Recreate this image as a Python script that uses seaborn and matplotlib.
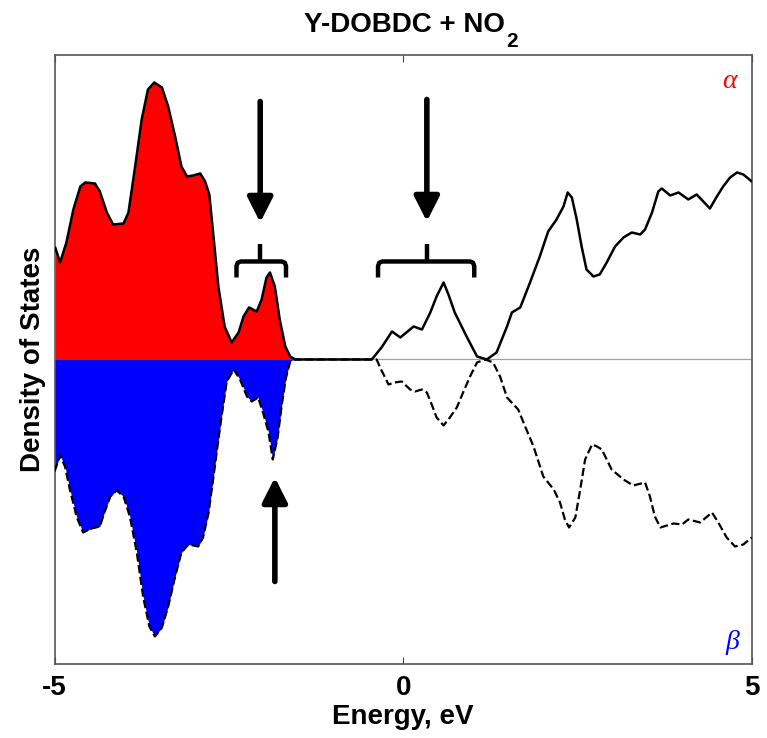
import numpy as np
import pandas as pd
import matplotlib
matplotlib.use("Agg")
import matplotlib.pyplot as plt
import seaborn as sns

# Spin-resolved density of states (arbitrary units) vs energy (eV)
alpha_energy = [-4.99, -4.92, -4.83, -4.73, -4.63, -4.56, -4.42, -4.35, -4.25, -4.16,
                -4.01, -3.94, -3.85, -3.75, -3.66, -3.57, -3.46, -3.37, -3.27, -3.18,
                -3.10, -3.01, -2.91, -2.84, -2.78, -2.72, -2.65, -2.56, -2.46, -2.36,
                -2.29, -2.21, -2.10, -2.03, -1.96, -1.91, -1.84, -1.77, -1.69, -1.62,
                -1.55, -0.45, -0.31, -0.16, -0.04, 0.15, 0.27, 0.39, 0.48, 0.58,
                0.65, 0.74, 0.91, 1.06, 1.20, 1.34, 1.49, 1.56, 1.68, 1.82,
                1.96, 2.08, 2.20, 2.30, 2.36, 2.42, 2.49, 2.56, 2.63, 2.73,
                2.82, 2.92, 3.04, 3.16, 3.28, 3.40, 3.47, 3.57, 3.66, 3.71,
                3.83, 3.95, 4.09, 4.21, 4.40, 4.50, 4.59, 4.69, 4.79, 4.88,
                5.00]
alpha_dos = [11.2, 9.7, 11.7, 15.0, 17.3, 17.7, 17.6, 16.8, 14.7, 13.5,
             13.6, 14.7, 19.0, 24.0, 27.0, 27.7, 27.2, 25.3, 22.3, 19.3,
             18.3, 18.4, 18.6, 17.8, 16.5, 12.3, 7.3, 3.3, 1.7, 2.7,
             4.3, 5.2, 4.8, 6.0, 8.2, 8.7, 7.3, 4.0, 1.3, 0.3,
             0.0, 0.0, 1.2, 2.8, 2.2, 3.3, 3.0, 4.7, 6.3, 7.7,
             6.5, 4.7, 2.3, 0.3, 0.0, 0.7, 3.3, 4.7, 5.2, 7.7,
             10.3, 12.8, 14.0, 15.3, 16.7, 16.2, 14.0, 11.3, 9.0, 8.3,
             8.5, 9.7, 11.3, 12.2, 12.7, 12.5, 13.0, 14.7, 16.8, 17.1,
             16.4, 16.7, 16.0, 16.5, 15.1, 16.3, 17.3, 18.2, 18.7, 18.5,
             17.8]

beta_energy = [-5.00, -4.92, -4.85, -4.78, -4.68, -4.59, -4.47, -4.35, -4.28, -4.20,
               -4.11, -4.01, -3.92, -3.82, -3.73, -3.64, -3.56, -3.46, -3.37, -3.27,
               -3.18, -3.08, -2.94, -2.87, -2.79, -2.72, -2.65, -2.60, -2.53, -2.43,
               -2.34, -2.24, -2.17, -2.08, -2.01, -1.93, -1.87, -1.80, -1.74, -1.68,
               -1.62, -1.58, -0.38, -0.33, -0.21, -0.12, -0.02, 0.10, 0.17, 0.27,
               0.34, 0.41, 0.48, 0.58, 0.67, 0.77, 0.86, 0.96, 1.06, 1.18,
               1.29, 1.39, 1.49, 1.65, 1.75, 1.87, 2.01, 2.16, 2.25, 2.32,
               2.38, 2.47, 2.54, 2.61, 2.71, 2.78, 2.85, 2.99, 3.16, 3.30,
               3.47, 3.54, 3.61, 3.69, 3.88, 4.00, 4.09, 4.26, 4.43, 4.52,
               4.64, 4.76, 4.88, 5.00]
beta_dos = [11.2, 9.6, 10.7, 13.0, 15.8, 17.3, 16.9, 16.7, 15.2, 13.7,
            13.1, 13.7, 15.7, 19.3, 23.7, 26.7, 27.7, 26.8, 24.7, 21.7,
            19.3, 18.5, 18.7, 17.8, 15.3, 11.7, 8.0, 5.5, 2.2, 1.0,
            2.0, 3.7, 4.2, 3.8, 5.3, 7.3, 10.0, 7.8, 4.5, 1.8,
            0.2, 0.0, 0.0, 0.8, 2.5, 2.3, 2.2, 3.0, 3.2, 3.0,
            3.3, 4.5, 5.8, 6.6, 5.8, 4.8, 3.3, 1.7, 0.3, 0.0,
            0.3, 1.7, 3.8, 5.0, 6.7, 8.7, 11.7, 13.0, 14.3, 16.0,
            16.8, 15.8, 13.0, 10.0, 8.5, 8.7, 9.0, 11.0, 12.0, 12.6,
            12.3, 13.7, 15.7, 16.8, 16.4, 16.5, 16.0, 16.3, 15.3, 16.3,
            17.8, 18.7, 18.5, 17.8]

# Top of the occupied states
occupied_edge = -1.55

x_ticks = [-5, 0, 5]
x_tick_labels = ["-5", "0", "5"]

sns.set_style("white")
plt.rcParams["font.family"] = ["Liberation Sans", "DejaVu Sans"]
plt.rcParams["text.color"] = "black"
plt.rcParams["axes.labelcolor"] = "black"
plt.rcParams["xtick.color"] = "black"

alpha = pd.DataFrame({"energy": alpha_energy, "dos": alpha_dos})
beta = pd.DataFrame({"energy": beta_energy, "dos": np.negative(beta_dos)})

fig = plt.figure(figsize=(7.67, 7.38), dpi=100)
ax = fig.add_axes([0.0711, 0.1003, 0.9090, 0.8252])

ax.axhline(0, color="#a0a0a0", lw=0.9, zorder=1)

# occupied states shaded
occ_a = alpha[alpha["energy"] <= occupied_edge + 1e-9]
occ_b = beta[beta["energy"] <= occupied_edge + 1e-9]
ax.fill_between(occ_a["energy"], occ_a["dos"], 0, color="#ff0000", lw=0, zorder=2)
ax.fill_between(occ_b["energy"], occ_b["dos"], 0, color="#0000ff", lw=0, zorder=2)

sns.lineplot(data=beta, x="energy", y="dos", ax=ax, color="black", lw=1.6,
             linestyle="--", sort=False, estimator=None, zorder=3)
sns.lineplot(data=alpha, x="energy", y="dos", ax=ax, color="black", lw=1.8,
             sort=False, estimator=None, zorder=4)

ax.set_xlim(-5, 5)
ax.set_ylim(-30.45, 30.45)

# arrows marking the states of interest
arrow_kw = dict(arrowstyle="-|>,head_length=0.75,head_width=0.38", lw=4,
                color="black", shrinkA=0, shrinkB=0, mutation_scale=20)
ax.annotate("", xy=(-2.05, 13.7), xytext=(-2.05, 25.8), arrowprops=arrow_kw)
ax.annotate("", xy=(0.34, 13.8), xytext=(0.34, 26.0), arrowprops=arrow_kw)
ax.annotate("", xy=(-1.84, -11.8), xytext=(-1.84, -22.2), arrowprops=arrow_kw)


def brace(x0, x1, xc, y_end=8.2, y_bar=9.8, y_tip=11.5):
    r = 0.06
    xs = [x0, x0, x0 + r * 0.3, x0 + r, x1 - r, x1 - r * 0.3, x1, x1]
    ys = [y_end, y_bar - 0.45, y_bar - 0.12, y_bar, y_bar, y_bar - 0.12, y_bar - 0.45, y_end]
    ax.plot(xs, ys, color="black", lw=3.2, solid_capstyle="butt",
            solid_joinstyle="round", zorder=5)
    ax.plot([xc, xc], [y_bar, y_tip], color="black", lw=3.2,
            solid_capstyle="butt", zorder=5)


brace(-2.39, -1.68, -2.05)
brace(-0.36, 1.02, 0.34)

ax.text(0.9675, 0.957, "α", transform=ax.transAxes, color="red", fontsize=20,
        family="Liberation Serif", style="italic", ha="center", va="center")
ax.text(0.972, 0.036, "β", transform=ax.transAxes, color="blue", fontsize=20,
        family="Liberation Serif", style="italic", ha="center", va="center")

ax.set_xticks(x_ticks)
ax.set_xticklabels(x_tick_labels, fontsize=20, fontweight="bold")
ax.set_yticks([])
ax.tick_params(axis="x", direction="in", length=5, width=0.8, top=True,
               bottom=True, pad=8, color="#444444")

for s in ax.spines.values():
    s.set_visible(True)
    s.set_color("#555555")
    s.set_linewidth(1.2)

ax.set_xlabel("Energy, eV", fontsize=20, fontweight="bold", labelpad=2)
ax.set_ylabel("Density of States", fontsize=20, fontweight="bold", labelpad=6)

# title with a lowered subscript
fig.text(505 / 767, 1 - 32 / 738, "Y-DOBDC + NO", fontsize=20, fontweight="bold",
         ha="right", va="baseline")
fig.text(506 / 767, 1 - 47 / 738, "2", fontsize=15, fontweight="bold",
         ha="left", va="baseline")

fig.savefig("out.png", dpi=100)
